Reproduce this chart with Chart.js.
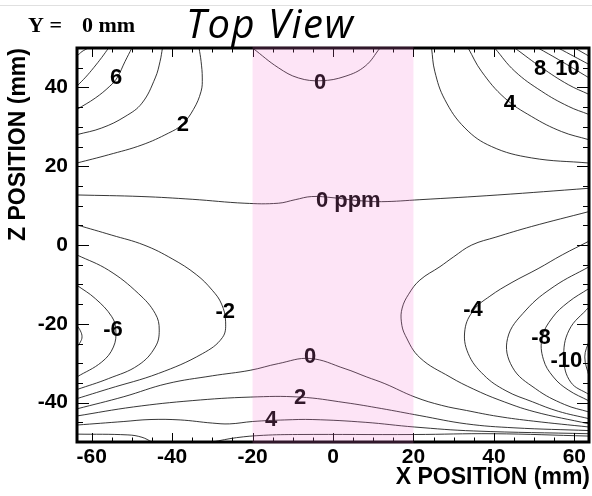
<!DOCTYPE html>
<html><head><meta charset="utf-8">
<script src="https://cdn.jsdelivr.net/npm/chart.js@4.4.1/dist/chart.umd.min.js"></script>
<style>html,body{margin:0;padding:0;background:#fff;}canvas{display:block;}</style>
</head><body>
<canvas id="c" width="592" height="496"></canvas>
<script>
// ---- axes ----
const xTicks = [-60, -40, -20, 0, 20, 40, 60];
const zTicks = [-40, -20, 0, 20, 40];
const xRange = [-63.65, 63.65];
const zRange = [-50, 50];
const bandX = [-20, 20];

// ---- contour lines [x, z] (ppm levels) ----
const c10_tl = [[-63.7,47.9],[-62.4,49.1],[-60.8,50]];
const c8_tl  = [[-63.7,40.3],[-61.5,42.6],[-59.5,45],[-57.5,47.6],[-55.8,50]];
const c6_tl  = [[-63.7,34.4],[-59.1,37.3],[-55.5,40.3],[-53.7,42.4],[-51.7,46.6],[-50,50]];
const c4_tl  = [[-63.7,28],[-57.5,29.7],[-51.7,32.6],[-47.5,36],[-44.2,42.4],[-43,46.6],[-42.4,50]];
const c2_tl  = [[-63.7,20.8],[-55.8,22.9],[-47.5,25.4],[-40.9,28.4],[-37.6,30.5],[-34.7,34.4],[-32.8,39],[-32.5,42.4],[-32.8,46.6],[-33.3,50]];
const c0_top = [[-20,50],[-13.6,45],[-8.6,42.4],[-3,41.7],[3,42.8],[8,45.4],[11.7,50]];
const c0_mid = [[-63.7,12.7],[-47.5,12.3],[-35,11.6],[-21.9,10.6],[-13.6,10.6],[-9.4,11.5],[-5.3,12.3],[0,12],[6,11.3],[12.1,11],[21.6,11.5],[41,12.7],[63.7,14.4]];
const c2_tr  = [[24.5,50],[25.3,44.1],[27.8,36.9],[32.8,29.7],[39.4,25],[49.4,22.1],[63.7,20.8]];
const c4_tr  = [[33.6,50],[36.9,44.1],[42.7,37.3],[49.4,32.6],[56.8,28.8],[63.7,26.7]];
const c6_tr  = [[40.2,50],[45.2,44.1],[51.9,39],[58.5,35.2],[63.7,33.1]];
const c8_tr  = [[45.2,50],[51.9,45],[58.5,40.7],[63.7,38.2]];
const c10_tr = [[51,50],[56,47.1],[63.7,42.4]];
const c12_tr = [[56,50],[63.7,45.8]];
const c14_tr = [[60.1,50],[63.7,47.9]];
const cm8_l  = [[-63.7,-20.4],[-62.8,-21.8],[-62.4,-23.3],[-62.8,-24.6],[-63.7,-25.9]];
const cm6_l  = [[-63.7,-10.2],[-59.1,-13.6],[-55,-18.2],[-54,-21.6],[-54.6,-25.9],[-57.5,-29.7],[-63.7,-33.5]];
const cm4_l  = [[-63.7,-2.5],[-55.8,-6.4],[-48.4,-12.3],[-44.2,-17.4],[-43.2,-21.6],[-44.2,-25.9],[-48.4,-30.5],[-55.8,-33.9],[-63.7,-36.7]];
const cm2_l  = [[-63.7,5.1],[-55,2.5],[-47,0],[-40,-3.5],[-34,-7.5],[-30,-11.5],[-27.7,-15],[-26.7,-19.5],[-27.5,-23.5],[-32.5,-27.6],[-43.4,-32.6],[-55.8,-36.5],[-63.7,-39]];
const cm2_r  = [[63.7,8.5],[49.4,4.7],[40.5,2],[34.5,0],[30,-3],[26.6,-5.5],[21.6,-8.9],[18.8,-12.5],[17.2,-16],[17,-19.5],[18,-23],[21.6,-28.6],[29.1,-33.5],[35,-36.6],[41.5,-39.4],[50,-42.3],[63.7,-45.4]];
const cm4_r  = [[63.7,1],[57,-2.5],[51,-6],[44.5,-9.5],[39,-13],[35,-16.5],[32.8,-21.5],[33.6,-27.5],[37.5,-33],[43,-37],[49.6,-39.8],[56,-42.2],[63.7,-44.1]];
const cm6_r  = [[63.7,-5.5],[55,-10.5],[48,-16.5],[43.4,-23.7],[44.6,-31],[50.4,-36.5],[57.6,-40.5],[63.7,-42.4]];
const cm8_r  = [[63.7,-11],[58.5,-14.5],[54.5,-18.5],[52,-23.5],[52.3,-29],[54.8,-33.5],[58.5,-36.8],[63.7,-39.6]];
const cm10_r = [[63.7,-15.7],[58.7,-21.6],[57.4,-28.8],[59.1,-34.8],[63.7,-38]];
const cm12_r = [[63.7,-24.2],[62.6,-28.4],[63.7,-33.5]];
const c0_bot = [[-63.7,-41.6],[-52,-38.5],[-41.3,-35.2],[-30,-33.2],[-20.6,-31.8],[-13.6,-30.1],[-5.7,-28.8],[3,-31.4],[8.4,-33.5],[12.9,-35.2],[20.4,-38.6],[27,-40.7],[33.2,-42],[41,-43.5],[49.8,-44.7],[63.7,-46.2]];
const c2_bot = [[-63.7,-43.4],[-49.6,-41.1],[-35,-39.5],[-20.6,-38.6],[-8.2,-38.6],[3,-40],[12,-41.5],[21.6,-43.3],[33.2,-45.4],[45,-46.4],[63.7,-47.1]];
const c4_bot = [[-63.7,-45.7],[-52,-44.8],[-45.5,-44.3],[-38,-44.4],[-30,-45.2],[-25.7,-45.4],[-20,-44.8],[-12,-44.4],[-5,-44.3],[8,-45],[20.3,-46.2],[35,-47.2],[63.7,-47.9]];
const c6_bot_a = [[-63.7,-48],[-51,-48.2],[-47.5,-48.8],[-45,-50]];
const c6_bot_b = [[-30,-50],[-24,-48.9],[-17.3,-48.3],[-8.9,-48.1],[20.2,-48.1],[39.8,-47.9],[63.7,-48.5]];

const contours = [c10_tl,c8_tl,c6_tl,c4_tl,c2_tl,c0_top,c0_mid,c2_tr,c4_tr,c6_tr,c8_tr,c10_tr,c12_tr,c14_tr,
  cm8_l,cm6_l,cm4_l,cm2_l,cm2_r,cm4_r,cm6_r,cm8_r,cm10_r,cm12_r,c0_bot,c2_bot,c4_bot,c6_bot_a,c6_bot_b];

// ---- contour labels [text, x, z] ----
const labelText = ['6','2','0','0 ppm','4','8','10','-2','-6','-4','-8','-10','0','2','4'];
const labelX    = [-53.9,-37.3,-3.2,3.8,44,51.5,58.3,-26.8,-54.7,34.8,51.7,58,-5.7,-8.2,-15.4];
const labelZ    = [42.5,30.5,41.2,11.2,35.9,44.7,44.7,-17,-21.6,-16.5,-23.7,-29.3,-28.5,-38.7,-44.3];

const tickFont = {family:'"Liberation Sans",Arial,sans-serif', size:21, weight:'bold'};

const deco = {
  id:'deco',
  beforeDraw(chart){
    const ctx = chart.ctx;
    ctx.save();
    ctx.fillStyle = '#fff'; ctx.fillRect(0,0,chart.width,chart.height);
    ctx.strokeStyle = '#e0e0e0'; ctx.lineWidth = 1;
    ctx.beginPath(); ctx.moveTo(0,5.5); ctx.lineTo(chart.width,5.5); ctx.stroke();
    ctx.restore();
  },
  afterDatasetsDraw(chart){
    const {ctx, chartArea:a, scales:{x, y}} = chart;
    ctx.save();
    ctx.fillStyle = '#000';
    ctx.font = 'bold 22px "Liberation Sans", Arial, sans-serif';
    ctx.textAlign = 'center'; ctx.textBaseline = 'middle';
    labelText.forEach((t,i)=> ctx.fillText(t, x.getPixelForValue(labelX[i]), y.getPixelForValue(labelZ[i])));
    // inward ticks
    ctx.strokeStyle = '#000'; ctx.lineWidth = 1;
    ctx.beginPath();
    for (let v = -60; v <= 60; v += 5) {
      const px = Math.round(x.getPixelForValue(v)) + 0.5;
      const L = (v % 20 === 0) ? 9 : 4.5;
      ctx.moveTo(px, a.bottom); ctx.lineTo(px, a.bottom - L);
      ctx.moveTo(px, a.top); ctx.lineTo(px, a.top + L);
    }
    for (let v = -45; v <= 45; v += 5) {
      const py = Math.round(y.getPixelForValue(v)) + 0.5;
      const L = (v % 20 === 0) ? 12 : 6;
      ctx.moveTo(a.left, py); ctx.lineTo(a.left + L, py);
      ctx.moveTo(a.right, py); ctx.lineTo(a.right - L, py);
    }
    ctx.stroke();
    ctx.lineWidth = 3;
    ctx.strokeRect(a.left, a.top, a.right - a.left, a.bottom - a.top);
    ctx.restore();
  },
  afterDraw(chart){
    const {ctx, chartArea:a, scales:{x}} = chart;
    ctx.save();
    const x0 = x.getPixelForValue(bandX[0]), x1 = x.getPixelForValue(bandX[1]);
    ctx.fillStyle = 'rgba(245,120,210,0.2)';
    ctx.fillRect(x0, a.top - 1.5, x1 - x0, a.bottom - a.top + 3);
    ctx.fillStyle = '#000';
    ctx.textBaseline = 'alphabetic'; ctx.textAlign = 'left';
    ctx.font = 'bold 22px "Liberation Serif", "Times New Roman", serif';
    ctx.fillText('Y =', 28, 32);
    ctx.fillText('0 mm', 82, 32);
    ctx.font = 'italic 40px "Open Sans", sans-serif';
    try { ctx.letterSpacing = '1.5px'; } catch(e) {}
    ctx.fillText('Top View', 186, 38);
    try { ctx.letterSpacing = '0px'; } catch(e) {}
    ctx.font = 'bold 23px "Liberation Sans", Arial, sans-serif';
    ctx.textAlign = 'right';
    ctx.fillText('X POSITION (mm)', 590, 484);
    ctx.translate(25, 241); ctx.rotate(-Math.PI/2);
    ctx.textAlign = 'left';
    ctx.fillText('Z POSITION (mm)', 0, 0);
    ctx.restore();
  }
};

new Chart(document.getElementById('c'), {
  type: 'scatter',
  data: { datasets: contours.map(c => ({
    data: c.map(p => ({x:p[0], y:p[1]})),
    showLine: true, borderColor: 'rgba(20,20,20,0.85)', borderWidth: 1,
    pointRadius: 0, pointHoverRadius: 0, tension: 0.4, fill: false
  })) },
  options: {
    responsive: false, animation: false, devicePixelRatio: 1,
    layout: { padding: { left: 0, right: 3, top: 48, bottom: 0 } },
    plugins: { legend: {display:false}, tooltip: {enabled:false} },
    scales: {
      x: { type:'linear', min:xRange[0], max:xRange[1],
        grid:{display:false, drawTicks:false}, border:{display:false},
        ticks:{padding:3, font:tickFont, color:'#000', maxRotation:0, autoSkip:false},
        afterBuildTicks: s => { s.ticks = xTicks.map(v => ({value:v})); },
        afterFit: s => { s.height = 54; } },
      y: { type:'linear', min:zRange[0], max:zRange[1],
        grid:{display:false, drawTicks:false}, border:{display:false},
        ticks:{padding:9, font:tickFont, color:'#000', autoSkip:false},
        afterBuildTicks: s => { s.ticks = zTicks.map(v => ({value:v})); },
        afterFit: s => { s.width = 77; } }
    }
  },
  plugins: [deco]
});
</script>
</body></html>
